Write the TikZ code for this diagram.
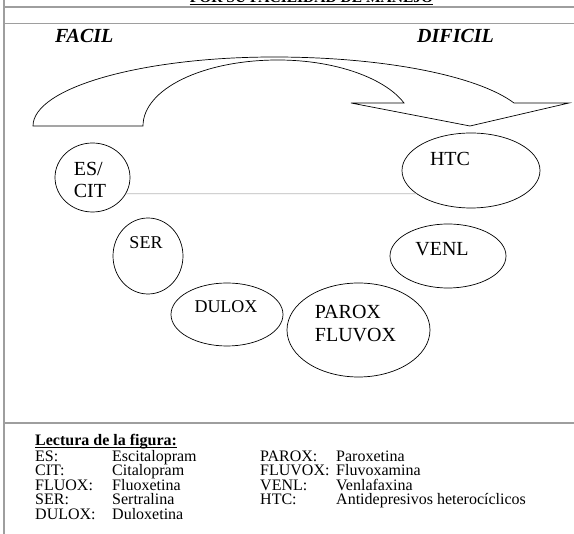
\documentclass[tikz,border=0pt]{standalone}
\usepackage{fontspec}
\setmainfont{Liberation Serif}
\usepackage{tikz}
\usetikzlibrary{shapes.geometric}

\begin{document}
\begin{tikzpicture}[x=1pt,y=-1pt]
	\tikzstyle{oval}=[ellipse,draw=black,line width=0.7pt,inner sep=0pt]
	\tikzstyle{lbl}=[inner sep=0pt,align=left,font=\fontsize{20}{22}\selectfont]
	\tikzstyle{lblsm}=[inner sep=0pt,font=\fontsize{18}{20}\selectfont]
	\tikzstyle{lgd}=[inner sep=0pt,anchor=base west,font=\fontsize{16}{14.5}\selectfont]
	\tikzstyle{tableline}=[draw=black!38,line width=1.4pt]
	\useasboundingbox (0,0) rectangle (574,534);
	\draw[tableline] (4,0) -- (4,534);
	\draw[tableline] (4,7) -- (574,7);
	\draw[tableline] (4,23.5) -- (574,23.5);
	\draw[tableline] (4,423) -- (574,423);
	\node[lgd,anchor=base,font=\fontsize{15.5}{18}\selectfont\bfseries] (ttl) at (311.5,3) {POR SU FACILIDAD DE MANEJO};
	\draw[line width=0.9pt] ([yshift=-1.8pt]ttl.base west) -- ([yshift=-1.8pt]ttl.base east);
	\node[lbl,anchor=base west,font=\fontsize{20}{22}\selectfont\bfseries\itshape] (facil) at (55,43) {FACIL};
	\node[lbl,anchor=base west,font=\fontsize{20}{22}\selectfont\bfseries\itshape] (dificil) at (417,43) {DIFICIL};
	\draw[line width=0.7pt] (33,126) -- (143,126) .. controls (143,89) and (203,60) .. (278,60) .. controls (335,60) and (385,78) .. (404,103) -- (351,103) -- (470,126) -- (569,103) -- (514,103) .. controls (478,76) and (385,57) .. (274,57) .. controls (141,57) and (33,88) .. (33,126) -- cycle;
	\node[oval,minimum width=75pt,minimum height=69pt](escit) at (92.5,177.5) {};
	\node[oval,minimum width=138pt,minimum height=75pt](htc) at (471,170.5) {};
	\node[oval,minimum width=70pt,minimum height=76pt](ser) at (148,256) {};
	\node[oval,minimum width=112pt,minimum height=63pt](dulox) at (227,314.5) {};
	\node[oval,minimum width=116pt,minimum height=64pt](venl) at (448,256) {};
	\node[oval,minimum width=143pt,minimum height=94pt](parox) at (358.5,330) {};
	\node[lbl](tescit) at (90,179.5) {ES/\\CIT};
	\node[lbl](thtc) at (450,158.5) {HTC};
	\node[lblsm](tser) at (146,243) {SER};
	\node[lblsm](tdulox) at (226,307) {DULOX};
	\node[lbl](tvenl) at (442,249.5) {VENL};
	\node[lbl,font=\fontsize{20}{23}\selectfont](tparox) at (355.5,324) {PAROX\\FLUVOX};
	\draw[draw=black!28,line width=0.8pt](escit.-26.6) -- (htc.203.6);
	\node[lgd,font=\fontsize{16}{14.5}\selectfont\bfseries] (lect) at (35,446) {Lectura de la figura:};
	\draw[line width=0.9pt] ([yshift=-1.8pt]lect.base west) -- ([yshift=-1.8pt]lect.base east);
	\node[lgd] (kes) at (35,461.5) {ES:};
	\node[lgd] (nes) at (112,461.5) {Escitalopram};
	\node[lgd] (kcit) at (35,476) {CIT:};
	\node[lgd] (ncit) at (112,476) {Citalopram};
	\node[lgd] (kfluox) at (35,490.5) {FLUOX:};
	\node[lgd] (nfluox) at (112,490.5) {Fluoxetina};
	\node[lgd] (kser) at (35,505) {SER:};
	\node[lgd] (nser) at (112,505) {Sertralina};
	\node[lgd] (kdulox) at (35,519.5) {DULOX:};
	\node[lgd] (ndulox) at (112,519.5) {Duloxetina};
	\node[lgd] (kparox) at (260,461.5) {PAROX:};
	\node[lgd] (nparox) at (336,461.5) {Paroxetina};
	\node[lgd] (kfluvox) at (260,476) {FLUVOX:};
	\node[lgd] (nfluvox) at (336,476) {Fluvoxamina};
	\node[lgd] (kvenl) at (260,490.5) {VENL:};
	\node[lgd] (nvenl) at (336,490.5) {Venlafaxina};
	\node[lgd] (khtc) at (260,505) {HTC:};
	\node[lgd] (nhtc) at (336,505) {Antidepresivos heterocíclicos};
\end{tikzpicture}
\end{document}
